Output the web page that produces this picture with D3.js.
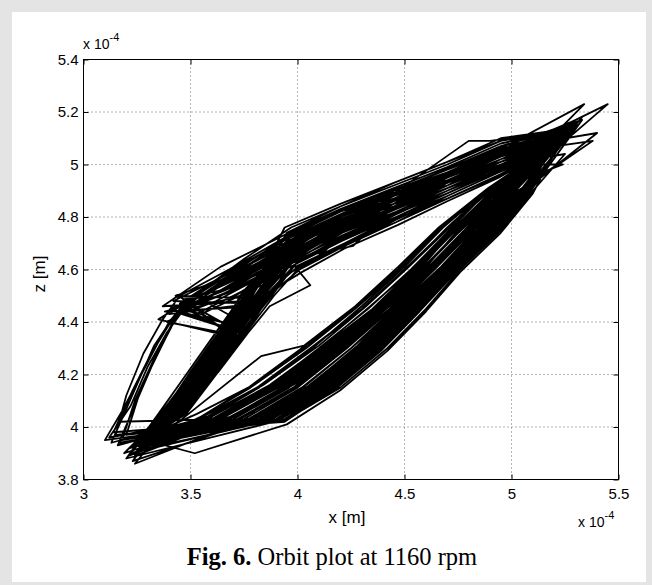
<!DOCTYPE html>
<html>
<head>
<meta charset="utf-8">
<script src="https://cdn.jsdelivr.net/npm/d3@7/dist/d3.min.js"></script>
<style>
  body { margin: 0; background: #e4e4e4; }
  svg { display: block; }
  .axis text { font-family: "Liberation Sans", Arial, sans-serif; font-size: 15px; fill: #000; }
  .axis line { stroke: #000; }
  .lbl { font-family: "Liberation Sans", Arial, sans-serif; fill: #000; }
  .grid line { stroke: #666; stroke-dasharray: 1,3; }
</style>
</head>
<body>
<div id="chart"></div>
<script>
// values in units of 1e-4 m, flat x,z pairs per revolution
const xTicks = [3, 3.5, 4, 4.5, 5, 5.5];
const zTicks = [3.8, 4, 4.2, 4.4, 4.6, 4.8, 5, 5.2, 5.4];

// revolutions that climb the inner left band
const innerRevs = [
  [3.30,3.95, 3.41,4.05, 3.55,4.20, 3.66,4.35, 3.80,4.50, 3.97,4.66, 4.20,4.76, 4.45,4.85, 4.70,4.93, 4.95,5.02, 5.22,5.10, 4.97,4.90, 4.80,4.75, 4.62,4.60, 4.44,4.45, 4.22,4.30, 3.98,4.15, 3.72,4.03],
  [3.26,3.92, 3.36,4.04, 3.50,4.21, 3.63,4.36, 3.76,4.51, 3.96,4.71, 4.20,4.80, 4.45,4.88, 4.70,4.97, 4.95,5.05, 5.28,5.14, 5.04,4.90, 4.88,4.75, 4.70,4.60, 4.50,4.45, 4.32,4.30, 4.10,4.15, 3.86,4.03],
  [3.34,3.98, 3.46,4.06, 3.60,4.19, 3.72,4.34, 3.86,4.49, 3.99,4.62, 4.21,4.71, 4.46,4.80, 4.70,4.89, 4.95,4.98, 5.18,5.07, 4.90,4.91, 4.70,4.76, 4.52,4.61, 4.32,4.46, 4.10,4.31, 3.84,4.16, 3.58,4.04],
  [3.22,3.90, 3.38,4.05, 3.53,4.22, 3.65,4.35, 3.78,4.52, 3.95,4.69, 4.19,4.79, 4.44,4.86, 4.71,4.96, 4.96,5.04, 5.30,5.16, 5.08,4.89, 4.93,4.74, 4.74,4.59, 4.57,4.44, 4.39,4.29, 4.17,4.14, 3.93,4.02],
  [3.36,3.99, 3.48,4.05, 3.62,4.20, 3.76,4.36, 3.89,4.50, 4.00,4.60, 4.22,4.69, 4.46,4.79, 4.70,4.88, 4.94,4.97, 5.16,5.06, 4.89,4.90, 4.66,4.75, 4.48,4.60, 4.27,4.45, 4.04,4.30, 3.78,4.15, 3.53,4.03],
  [3.28,3.93, 3.40,4.04, 3.56,4.21, 3.69,4.37, 3.81,4.49, 3.97,4.73, 4.20,4.82, 4.45,4.90, 4.69,4.98, 4.95,5.07, 5.23,5.11, 5.00,4.91, 4.84,4.76, 4.67,4.61, 4.47,4.46, 4.28,4.31, 4.06,4.16, 3.80,4.04],
  [3.33,3.97, 3.43,4.05, 3.57,4.19, 3.70,4.34, 3.83,4.50, 3.98,4.64, 4.21,4.78, 4.45,4.83, 4.71,4.94, 4.95,5.00, 5.19,5.08, 4.94,4.90, 4.75,4.75, 4.58,4.59, 4.38,4.44, 4.16,4.29, 3.92,4.14, 3.66,4.02],
  [3.20,3.88, 3.35,4.05, 3.48,4.20, 3.61,4.35, 3.74,4.50, 3.95,4.70, 4.19,4.77, 4.44,4.89, 4.70,4.95, 4.96,5.06, 5.40,5.12, 5.06,4.90, 4.90,4.75, 4.72,4.60, 4.54,4.45, 4.36,4.30, 4.14,4.15, 3.90,4.03],
  [3.35,3.97, 3.45,4.06, 3.59,4.21, 3.73,4.35, 3.87,4.49, 4.00,4.63, 4.22,4.73, 4.46,4.81, 4.70,4.90, 4.94,4.99, 5.17,5.05, 4.88,4.90, 4.68,4.76, 4.50,4.61, 4.30,4.46, 4.07,4.30, 3.81,4.15, 3.56,4.04],
  [3.31,3.99, 3.42,4.06, 3.55,4.20, 3.68,4.35, 3.81,4.50, 3.96,4.67, 4.20,4.79, 4.45,4.84, 4.70,4.95, 4.95,5.03, 5.45,5.23, 4.98,4.90, 4.82,4.75, 4.64,4.60, 4.43,4.45, 4.20,4.30, 3.96,4.15, 3.70,4.03],
  [3.29,3.93, 3.43,4.05, 3.58,4.22, 3.70,4.36, 3.82,4.49, 3.97,4.65, 4.20,4.74, 4.45,4.87, 4.70,4.92, 4.95,5.01, 5.21,5.09, 5.01,4.91, 4.83,4.74, 4.65,4.59, 4.46,4.45, 4.25,4.30, 4.01,4.14, 3.75,4.02],
  [3.24,3.94, 3.36,4.05, 3.51,4.20, 3.64,4.35, 3.75,4.50, 3.96,4.72, 4.20,4.81, 4.45,4.89, 4.80,5.09, 4.90,5.09, 5.25,5.13, 5.05,4.90, 4.89,4.75, 4.71,4.60, 4.52,4.45, 4.33,4.30, 4.12,4.15, 3.88,4.03],
  [3.23,3.87, 3.38,4.04, 3.52,4.19, 3.65,4.34, 3.77,4.50, 3.95,4.68, 4.19,4.78, 4.44,4.86, 4.70,4.96, 4.96,5.04, 5.24,5.11, 5.10,4.89, 4.95,4.74, 4.76,4.59, 4.60,4.44, 4.42,4.29, 4.20,4.14, 3.95,4.01, 3.52,3.90],
  [3.31,3.95, 3.42,4.05, 3.57,4.21, 3.71,4.35, 3.81,4.50, 3.97,4.64, 4.26,4.69, 4.45,4.84, 4.70,4.93, 4.95,5.01, 5.20,5.09, 4.95,4.90, 4.78,4.75, 4.60,4.60, 4.40,4.45, 4.18,4.30, 3.94,4.15, 3.68,4.03],
  [3.30,3.95, 3.42,4.05, 3.56,4.20, 3.69,4.35, 3.81,4.50, 3.98,4.67, 4.21,4.77, 4.45,4.86, 4.70,4.94, 4.95,5.03, 5.22,5.09, 4.89,4.91, 4.66,4.76, 4.47,4.61, 4.27,4.46, 4.03,4.31, 3.83,4.27, 3.46,4.03],
  [3.36,3.99, 3.48,4.07, 3.63,4.21, 3.77,4.36, 3.87,4.46, 4.06,4.54, 3.99,4.61, 4.22,4.70, 4.46,4.78, 4.70,4.88, 4.94,4.97, 5.16,5.05, 4.88,4.90, 4.65,4.75, 4.47,4.60, 4.26,4.45, 4.02,4.30, 3.77,4.15, 3.53,4.05],
  [3.21,3.89, 3.35,4.04, 3.49,4.19, 3.62,4.34, 3.74,4.51, 3.95,4.70, 4.19,4.80, 4.44,4.88, 4.71,4.97, 4.96,5.05, 5.29,5.14, 5.03,4.89, 4.86,4.74, 4.69,4.59, 4.49,4.44, 4.30,4.29, 4.08,4.14, 3.84,4.02],
  [3.28,3.94, 3.42,4.05, 3.57,4.20, 3.71,4.35, 3.82,4.50, 3.97,4.66, 4.20,4.75, 4.45,4.85, 4.70,4.92, 4.95,5.02, 5.23,5.10, 4.99,4.91, 4.81,4.76, 4.63,4.61, 4.42,4.46, 4.19,4.31, 3.95,4.16, 3.69,4.04],
  [3.27,3.95, 3.39,4.06, 3.54,4.21, 3.67,4.36, 3.78,4.49, 3.96,4.72, 4.20,4.80, 4.45,4.90, 4.70,4.96, 4.95,5.06, 5.26,5.12, 4.92,4.91, 4.73,4.75, 4.55,4.61, 4.34,4.46, 4.12,4.31, 3.87,4.16, 3.60,4.04],
  [3.32,3.96, 3.46,4.05, 3.60,4.20, 3.74,4.35, 3.85,4.50, 3.99,4.62, 4.21,4.72, 4.46,4.80, 4.70,4.89, 4.94,4.98, 5.19,5.06, 5.07,4.90, 4.92,4.75, 4.73,4.60, 4.56,4.45, 4.38,4.30, 4.16,4.15, 3.91,4.03],
  [3.25,3.91, 3.41,4.05, 3.55,4.20, 3.68,4.35, 3.80,4.50, 3.96,4.68, 4.20,4.78, 4.45,4.87, 4.70,4.95, 4.95,5.04, 5.27,5.13, 5.02,4.90, 4.86,4.75, 4.68,4.60, 4.50,4.45, 4.31,4.30, 4.09,4.15, 3.85,4.03],
  [3.34,3.97, 3.44,4.06, 3.58,4.21, 3.72,4.35, 3.84,4.50, 3.98,4.63, 4.21,4.74, 4.46,4.82, 4.70,4.91, 4.95,4.99, 5.18,5.07, 4.89,4.90, 4.71,4.75, 4.53,4.60, 4.33,4.45, 4.10,4.30, 3.86,4.15, 3.60,4.03],
  [3.23,3.92, 3.37,4.05, 3.51,4.20, 3.64,4.35, 3.76,4.50, 3.96,4.70, 4.20,4.79, 4.45,4.85, 4.70,4.97, 4.95,5.03, 5.31,5.15, 5.03,4.91, 4.87,4.76, 4.70,4.61, 4.51,4.46, 4.31,4.31, 4.09,4.16, 3.84,4.04],
  [3.35,3.98, 3.47,4.05, 3.61,4.20, 3.75,4.35, 3.87,4.50, 3.99,4.65, 4.21,4.76, 4.46,4.84, 4.70,4.92, 4.95,5.01, 5.21,5.08, 4.96,4.90, 4.79,4.75, 4.61,4.60, 4.41,4.45, 4.17,4.30, 3.93,4.15, 3.67,4.03],
  [3.19,3.90, 3.36,4.04, 3.50,4.19, 3.63,4.34, 3.75,4.50, 3.95,4.73, 4.19,4.82, 4.44,4.90, 4.70,4.98, 4.96,5.07, 5.33,5.17, 5.09,4.90, 4.94,4.75, 4.75,4.60, 4.58,4.45, 4.40,4.30, 4.18,4.15, 3.94,4.02],
  [3.33,3.98, 3.45,4.06, 3.59,4.21, 3.73,4.36, 3.85,4.50, 3.99,4.62, 4.21,4.71, 4.46,4.81, 4.70,4.90, 4.94,4.98, 5.17,5.06, 4.90,4.91, 4.67,4.76, 4.49,4.61, 4.28,4.46, 4.05,4.31, 3.79,4.16, 3.55,4.04],
  [3.27,3.93, 3.40,4.06, 3.54,4.22, 3.67,4.36, 3.79,4.51, 3.97,4.69, 4.20,4.77, 4.45,4.88, 4.70,4.94, 4.95,5.03, 5.22,5.11, 5.00,4.92, 4.83,4.77, 4.66,4.62, 4.46,4.47, 4.24,4.32, 4.00,4.17, 3.74,4.05],
  [3.30,3.96, 3.43,4.04, 3.57,4.19, 3.70,4.34, 3.83,4.49, 3.97,4.71, 4.20,4.81, 4.45,4.86, 4.70,4.96, 4.95,5.05, 5.24,5.12, 4.93,4.88, 4.74,4.73, 4.56,4.58, 4.36,4.43, 4.13,4.28, 3.89,4.13, 3.62,4.01],
  [3.24,3.89, 3.38,4.05, 3.52,4.20, 3.65,4.35, 3.77,4.50, 3.96,4.65, 4.20,4.76, 4.45,4.83, 4.70,4.93, 4.95,5.00, 5.25,5.04, 5.10,4.90, 4.95,4.75, 4.76,4.60, 4.60,4.45, 4.42,4.30, 4.20,4.15, 3.95,4.03],
  [3.29,3.94, 3.42,4.05, 3.56,4.20, 3.69,4.35, 3.81,4.50, 3.97,4.68, 4.20,4.79, 4.45,4.87, 4.70,4.95, 4.95,5.04, 5.38,5.09, 5.04,4.90, 4.88,4.75, 4.71,4.60, 4.52,4.45, 4.34,4.30, 4.12,4.15, 3.87,4.03],
  [3.35,3.99, 3.47,4.07, 3.61,4.21, 3.76,4.36, 3.86,4.51, 4.00,4.61, 4.22,4.70, 4.46,4.80, 4.70,4.88, 4.94,4.97, 5.15,5.04, 4.97,4.91, 4.80,4.76, 4.62,4.61, 4.43,4.46, 4.21,4.31, 3.97,4.16, 3.71,4.04],
  [3.22,3.92, 3.36,4.05, 3.50,4.20, 3.63,4.35, 3.76,4.50, 3.96,4.71, 4.20,4.81, 4.45,4.88, 4.70,4.97, 4.95,5.05, 5.28,5.13, 4.98,4.90, 4.82,4.75, 4.64,4.60, 4.44,4.45, 4.22,4.30, 3.99,4.15, 3.73,4.03],
  [3.28,3.92, 3.41,4.05, 3.55,4.20, 3.68,4.35, 3.80,4.50, 3.97,4.66, 4.20,4.78, 4.45,4.84, 4.70,4.94, 4.95,5.02, 5.23,5.10, 5.06,4.90, 4.91,4.75, 4.73,4.60, 4.55,4.45, 4.37,4.30, 4.15,4.15, 3.90,4.03],
  [3.31,3.94, 3.42,4.05, 3.57,4.20, 3.71,4.35, 3.82,4.50, 3.97,4.67, 4.20,4.75, 4.45,4.85, 4.70,4.93, 4.95,5.01, 5.20,5.09, 5.01,4.90, 4.85,4.75, 4.68,4.60, 4.48,4.45, 4.28,4.30, 4.05,4.15, 3.80,4.03],
  [3.27,3.94, 3.39,4.05, 3.53,4.20, 3.66,4.35, 3.78,4.50, 3.94,4.76, 4.20,4.85, 4.45,4.93, 4.70,5.01, 4.95,5.10, 5.30,5.14, 5.06,4.90, 4.90,4.75, 4.73,4.60, 4.55,4.45, 4.37,4.30, 4.15,4.15, 3.90,4.03],
  [3.33,3.97, 3.45,4.06, 3.60,4.21, 3.74,4.36, 3.88,4.52, 4.02,4.59, 4.22,4.68, 4.47,4.77, 4.70,4.86, 4.94,4.95, 5.16,5.05, 4.90,4.90, 4.69,4.75, 4.50,4.60, 4.30,4.45, 4.06,4.30, 3.82,4.15, 3.57,4.03],
  [3.25,3.93, 3.38,4.05, 3.52,4.20, 3.66,4.36, 3.79,4.50, 3.95,4.74, 4.20,4.84, 4.45,4.92, 4.70,5.00, 4.95,5.09, 5.27,5.13, 4.94,4.90, 4.74,4.75, 4.56,4.60, 4.37,4.45, 4.14,4.30, 3.90,4.15, 3.63,4.03],
  [3.34,3.98, 3.46,4.06, 3.61,4.21, 3.75,4.36, 3.88,4.51, 4.01,4.60, 4.22,4.69, 4.46,4.78, 4.70,4.87, 4.94,4.96, 5.17,5.05, 5.08,4.90, 4.93,4.75, 4.75,4.60, 4.58,4.45, 4.40,4.30, 4.18,4.15, 3.94,4.03]
];

// revolutions that spike back to the knee from the inner band
const kneeRevs = [
  [3.32,3.96, 3.43,4.06, 3.57,4.21, 3.72,4.38, 3.44,4.46, 3.68,4.55, 3.97,4.67, 4.20,4.77, 4.45,4.86, 4.70,4.93, 4.95,5.02, 5.20,5.08, 5.00,4.90, 4.84,4.75, 4.66,4.60, 4.47,4.45, 4.27,4.30, 4.04,4.15, 3.78,4.03],
  [3.25,3.94, 3.40,4.05, 3.54,4.20, 3.70,4.36, 3.79,4.47, 3.40,4.43, 3.66,4.58, 3.96,4.72, 4.20,4.81, 4.45,4.88, 4.70,4.97, 4.95,5.05, 5.26,5.13, 5.05,4.90, 4.89,4.75, 4.71,4.60, 4.53,4.45, 4.34,4.30, 4.12,4.15, 3.87,4.03],
  [3.27,3.92, 3.42,4.05, 3.56,4.20, 3.69,4.35, 3.46,4.49, 3.70,4.53, 3.97,4.66, 4.20,4.76, 4.45,4.85, 4.70,4.94, 4.95,5.01, 5.24,5.10, 4.95,4.91, 4.77,4.76, 4.59,4.61, 4.39,4.46, 4.16,4.31, 3.91,4.16, 3.65,4.04],
  [3.34,3.98, 3.45,4.06, 3.60,4.20, 3.74,4.35, 3.82,4.46, 3.38,4.44, 3.64,4.50, 3.99,4.63, 4.21,4.72, 4.46,4.81, 4.70,4.90, 4.94,4.98, 5.18,5.07, 4.91,4.90, 4.72,4.75, 4.54,4.60, 4.35,4.45, 4.12,4.30, 3.88,4.15, 3.61,4.03],
  [3.26,3.93, 3.39,4.05, 3.53,4.20, 3.66,4.35, 3.35,4.41, 3.62,4.55, 3.96,4.70, 4.20,4.80, 4.45,4.87, 4.70,4.96, 4.95,5.04, 5.38,5.09, 5.03,4.90, 4.87,4.75, 4.69,4.60, 4.50,4.45, 4.31,4.30, 4.09,4.15, 3.84,4.03],
  [3.24,3.86, 3.44,4.06, 3.58,4.21, 3.71,4.36, 3.80,4.47, 3.42,4.48, 3.72,4.60, 3.96,4.73, 4.20,4.82, 4.45,4.90, 4.70,4.97, 4.95,5.06, 5.26,5.11, 5.08,4.90, 4.93,4.75, 4.74,4.60, 4.57,4.45, 4.39,4.30, 4.17,4.15, 3.92,4.03],
  [3.30,3.95, 3.44,4.05, 3.58,4.19, 3.73,4.34, 3.48,4.45, 3.66,4.51, 3.98,4.64, 4.21,4.75, 4.46,4.83, 4.70,4.92, 4.95,5.00, 5.21,5.08, 4.93,4.90, 4.74,4.75, 4.56,4.60, 4.36,4.45, 4.13,4.30, 3.89,4.15, 3.63,4.03],
  [3.29,3.94, 3.40,4.05, 3.54,4.20, 3.67,4.35, 3.78,4.48, 3.37,4.46, 3.64,4.61, 3.96,4.74, 4.20,4.83, 4.45,4.90, 4.70,4.98, 4.95,5.07, 5.30,5.15, 5.04,4.90, 4.88,4.75, 4.70,4.60, 4.51,4.45, 4.32,4.30, 4.10,4.15, 3.86,4.03],
  [3.33,3.97, 3.46,4.06, 3.61,4.21, 3.75,4.36, 3.50,4.42, 3.70,4.50, 3.99,4.62, 4.22,4.72, 4.46,4.80, 4.70,4.89, 4.94,4.98, 5.17,5.06, 4.90,4.91, 4.71,4.76, 4.52,4.61, 4.32,4.46, 4.08,4.31, 3.84,4.16, 3.58,4.04],
  [3.27,3.93, 3.42,4.05, 3.56,4.20, 3.70,4.35, 3.81,4.49, 3.43,4.50, 3.68,4.57, 3.97,4.69, 4.20,4.78, 4.45,4.86, 4.70,4.95, 4.95,5.03, 5.23,5.11, 5.00,4.90, 4.84,4.75, 4.66,4.60, 4.47,4.45, 4.27,4.30, 4.05,4.15, 3.80,4.03],
  [3.31,3.95, 3.43,4.05, 3.57,4.20, 3.71,4.35, 3.39,4.40, 3.66,4.53, 3.97,4.68, 4.20,4.78, 4.45,4.85, 4.70,4.94, 4.95,5.02, 5.22,5.10, 4.97,4.90, 4.80,4.75, 4.62,4.60, 4.43,4.45, 4.22,4.30, 3.99,4.15, 3.72,4.03],
  [3.28,3.94, 3.41,4.06, 3.55,4.21, 3.69,4.36, 3.80,4.48, 3.45,4.47, 3.73,4.62, 3.97,4.71, 4.20,4.80, 4.45,4.88, 4.70,4.96, 4.95,5.04, 5.25,5.12, 5.02,4.90, 4.86,4.75, 4.68,4.60, 4.49,4.45, 4.29,4.30, 4.07,4.15, 3.82,4.03],
  [3.29,3.95, 3.42,4.05, 3.57,4.21, 3.74,4.40, 3.52,4.50, 3.75,4.64, 3.97,4.76, 4.20,4.84, 4.45,4.93, 4.70,5.01, 4.95,5.09, 5.27,5.14, 5.04,4.90, 4.87,4.75, 4.69,4.60, 4.50,4.45, 4.30,4.30, 4.08,4.15, 3.83,4.03],
  [3.33,3.96, 3.45,4.06, 3.59,4.20, 3.72,4.33, 3.55,4.43, 3.78,4.52, 3.97,4.59, 4.20,4.69, 4.45,4.79, 4.70,4.87, 4.95,4.96, 5.19,5.07, 4.93,4.90, 4.74,4.75, 4.55,4.60, 4.35,4.45, 4.12,4.30, 3.87,4.15, 3.60,4.03],
  [3.26,3.92, 3.40,4.05, 3.55,4.21, 3.70,4.37, 3.41,4.45, 3.60,4.52, 3.80,4.63, 3.97,4.70, 4.20,4.79, 4.45,4.87, 4.70,4.95, 4.95,5.03, 5.24,5.11, 5.01,4.90, 4.84,4.75, 4.66,4.60, 4.47,4.45, 4.27,4.30, 4.04,4.15, 3.79,4.03],
  [3.31,3.97, 3.44,4.06, 3.58,4.20, 3.73,4.36, 3.46,4.43, 3.62,4.48, 3.85,4.58, 3.97,4.64, 4.20,4.74, 4.45,4.83, 4.70,4.91, 4.95,5.00, 5.21,5.09, 4.96,4.90, 4.78,4.75, 4.60,4.60, 4.41,4.45, 4.19,4.30, 3.95,4.15, 3.68,4.03],
  [3.28,3.93, 3.41,4.05, 3.56,4.21, 3.71,4.37, 3.49,4.47, 3.74,4.60, 3.97,4.73, 4.20,4.83, 4.45,4.91, 4.70,4.99, 4.95,5.08, 5.29,5.14, 5.07,4.90, 4.91,4.75, 4.72,4.60, 4.54,4.45, 4.35,4.30, 4.13,4.15, 3.88,4.03],
  [3.32,3.95, 3.44,4.05, 3.59,4.20, 3.75,4.38, 3.44,4.44, 3.69,4.49, 3.90,4.60, 4.05,4.62, 4.20,4.72, 4.45,4.81, 4.70,4.89, 4.95,4.98, 5.18,5.06, 4.92,4.90, 4.73,4.75, 4.57,4.60, 4.37,4.45, 4.15,4.30, 3.91,4.15, 3.64,4.03]
];

// revolutions that go up the outer left fan to the knee
const fanRevs = [
  [3.18,3.95, 3.24,4.10, 3.33,4.26, 3.42,4.40, 3.48,4.48, 3.70,4.56, 3.97,4.68, 4.20,4.78, 4.45,4.86, 4.70,4.94, 4.95,5.02, 5.24,5.12, 5.01,4.90, 4.85,4.75, 4.67,4.60, 4.48,4.45, 4.29,4.30, 4.06,4.15, 3.80,4.03],
  [3.15,3.97, 3.20,4.12, 3.28,4.28, 3.37,4.41, 3.45,4.50, 3.68,4.60, 3.96,4.73, 4.20,4.82, 4.45,4.89, 4.70,4.97, 4.95,5.06, 5.34,5.23, 4.94,4.90, 4.76,4.75, 4.58,4.60, 4.38,4.45, 4.15,4.30, 3.90,4.15, 3.63,4.03],
  [3.12,3.96, 3.22,4.08, 3.30,4.23, 3.39,4.36, 3.47,4.45, 3.71,4.55, 3.97,4.67, 4.20,4.77, 4.45,4.85, 4.70,4.93, 4.95,5.01, 5.21,5.10, 5.06,4.90, 4.91,4.75, 4.73,4.60, 4.55,4.45, 4.37,4.30, 4.15,4.15, 3.90,4.03],
  [3.16,3.93, 3.26,4.12, 3.35,4.29, 3.43,4.42, 3.50,4.47, 3.66,4.52, 3.98,4.65, 4.21,4.74, 4.46,4.83, 4.70,4.91, 4.95,4.99, 5.27,5.12, 4.98,4.90, 4.81,4.75, 4.63,4.60, 4.44,4.45, 4.23,4.30, 4.00,4.15, 3.75,4.03],
  [3.10,3.95, 3.18,4.06, 3.27,4.20, 3.36,4.34, 3.44,4.44, 3.69,4.58, 3.96,4.71, 4.20,4.80, 4.45,4.88, 4.70,4.96, 4.95,5.05, 5.33,5.18, 5.04,4.90, 4.88,4.75, 4.70,4.60, 4.52,4.45, 4.33,4.30, 4.11,4.15, 3.86,4.03],
  [3.14,3.98, 3.23,4.14, 3.31,4.27, 3.40,4.39, 3.48,4.46, 3.70,4.54, 3.98,4.66, 4.21,4.75, 4.46,4.84, 4.70,4.92, 4.95,5.00, 5.24,5.00, 4.92,4.90, 4.73,4.75, 4.55,4.60, 4.35,4.45, 4.11,4.30, 3.87,4.15, 3.60,4.03],
  [3.17,4.02, 3.21,4.10, 3.30,4.25, 3.40,4.40, 3.49,4.49, 3.72,4.61, 3.96,4.72, 4.20,4.81, 4.45,4.90, 4.70,4.98, 4.96,5.06, 5.29,5.15, 5.09,4.90, 4.94,4.75, 4.75,4.60, 4.58,4.45, 4.40,4.30, 4.18,4.15, 3.94,4.03],
  [3.20,3.97, 3.27,4.15, 3.36,4.30, 3.44,4.43, 3.51,4.46, 3.67,4.51, 3.99,4.64, 4.21,4.73, 4.46,4.82, 4.70,4.90, 4.94,4.99, 5.20,5.08, 4.89,4.90, 4.69,4.75, 4.50,4.60, 4.30,4.45, 4.06,4.30, 3.81,4.15, 3.56,4.03],
  [3.13,3.94, 3.19,4.05, 3.26,4.18, 3.33,4.31, 3.42,4.42, 3.70,4.57, 3.97,4.70, 4.20,4.79, 4.45,4.87, 4.70,4.95, 4.95,5.03, 5.26,5.13, 5.02,4.90, 4.86,4.75, 4.68,4.60, 4.50,4.45, 4.30,4.30, 4.08,4.15, 3.83,4.03],
  [3.17,3.94, 3.25,4.11, 3.34,4.27, 3.41,4.38, 3.46,4.47, 3.69,4.56, 3.97,4.69, 4.20,4.79, 4.45,4.86, 4.70,4.95, 4.95,5.03, 5.22,5.09, 4.99,4.90, 4.82,4.75, 4.64,4.60, 4.45,4.45, 4.25,4.30, 4.02,4.15, 3.77,4.03]
];

const W = 652, H = 585;
const pLeft = 83.5, pRight = 618.5, pTop = 59.5, pBottom = 479.5;

const svg = d3.select("#chart").append("svg")
  .attr("width", W)
  .attr("height", H);

svg.append("rect").attr("width", W).attr("height", H).attr("fill", "#e4e4e4");
svg.append("rect")
  .attr("x", 12).attr("y", 12)
  .attr("width", 634).attr("height", 570)
  .attr("fill", "#fff");

const xScale = d3.scaleLinear().domain([3, 5.5]).range([pLeft, pRight]);
const yScale = d3.scaleLinear().domain([3.8, 5.4]).range([pBottom, pTop]);

// grid
const grid = svg.append("g").attr("class", "grid");
grid.selectAll(".gx")
  .data(xTicks.slice(1, -1))
  .join("line")
  .attr("class", "gx")
  .attr("x1", d => xScale(d)).attr("x2", d => xScale(d))
  .attr("y1", pTop).attr("y2", pBottom);
grid.selectAll(".gy")
  .data(zTicks.slice(1, -1))
  .join("line")
  .attr("class", "gy")
  .attr("y1", d => yScale(d)).attr("y2", d => yScale(d))
  .attr("x1", pLeft).attr("x2", pRight);

// orbit trace
svg.append("clipPath").attr("id", "clip")
  .append("rect").attr("x", pLeft).attr("y", pTop)
  .attr("width", pRight - pLeft).attr("height", pBottom - pTop);

// round robin so the trace hops between kinds of revolution
const order = [];
for (let k = 0; k < innerRevs.length; k++) {
  order.push(innerRevs[k]);
  if (kneeRevs[k]) order.push(kneeRevs[k]);
  if (fanRevs[k]) order.push(fanRevs[k]);
}
const pts = [];
order.forEach(r => {
  for (let i = 0; i < r.length; i += 2) pts.push([r[i], r[i + 1]]);
});

const line = d3.line()
  .x(d => xScale(d[0]))
  .y(d => yScale(d[1]));

svg.append("path")
  .datum(pts)
  .attr("clip-path", "url(#clip)")
  .attr("fill", "none")
  .attr("stroke", "#000")
  .attr("stroke-width", 1.8)
  .attr("stroke-linejoin", "round")
  .attr("d", line);

// axes, ticks inward on all four sides
const xAxis = d3.axisBottom(xScale).tickValues(xTicks).tickSize(-5).tickPadding(9).tickFormat(d => d);
const yAxis = d3.axisLeft(yScale).tickValues(zTicks).tickSize(-5).tickPadding(5).tickFormat(d => d);

svg.append("g").attr("class", "axis")
  .attr("transform", `translate(0,${pBottom})`)
  .call(xAxis)
  .call(g => g.select(".domain").remove());
svg.append("g").attr("class", "axis")
  .attr("transform", `translate(${pLeft},0)`)
  .call(yAxis)
  .call(g => g.select(".domain").remove());
svg.append("g").attr("class", "axis")
  .attr("transform", `translate(0,${pTop})`)
  .call(d3.axisTop(xScale).tickValues(xTicks).tickSize(-5).tickFormat(""))
  .call(g => g.select(".domain").remove());
svg.append("g").attr("class", "axis")
  .attr("transform", `translate(${pRight},0)`)
  .call(d3.axisRight(yScale).tickValues(zTicks).tickSize(-5).tickFormat(""))
  .call(g => g.select(".domain").remove());

svg.append("rect")
  .attr("x", pLeft).attr("y", pTop)
  .attr("width", pRight - pLeft).attr("height", pBottom - pTop)
  .attr("fill", "none").attr("stroke", "#000").attr("stroke-width", 1);

// labels
svg.append("text").attr("class", "lbl")
  .attr("x", 347).attr("y", 523)
  .attr("text-anchor", "middle")
  .style("font-size", "17px")
  .text("x [m]");

svg.append("text").attr("class", "lbl")
  .attr("transform", "translate(45,274) rotate(-90)")
  .attr("text-anchor", "middle")
  .style("font-size", "17px")
  .text("z [m]");

// exponent markers
function expo(x, y) {
  const t = svg.append("text").attr("class", "lbl")
    .attr("x", x).attr("y", y)
    .style("font-size", "14px");
  t.append("tspan").text("x 10");
  t.append("tspan").attr("dy", -8).style("font-size", "11px").text("-4");
}
expo(83, 49);
expo(578, 527);

// caption
const cap = svg.append("text")
  .attr("x", 332).attr("y", 565)
  .attr("text-anchor", "middle")
  .style("font-family", "'Liberation Serif', 'Times New Roman', serif")
  .style("font-size", "24.5px");
cap.append("tspan").style("font-weight", "bold").text("Fig. 6.");
cap.append("tspan").text(" Orbit plot at 1160 rpm");
</script>
</body>
</html>
